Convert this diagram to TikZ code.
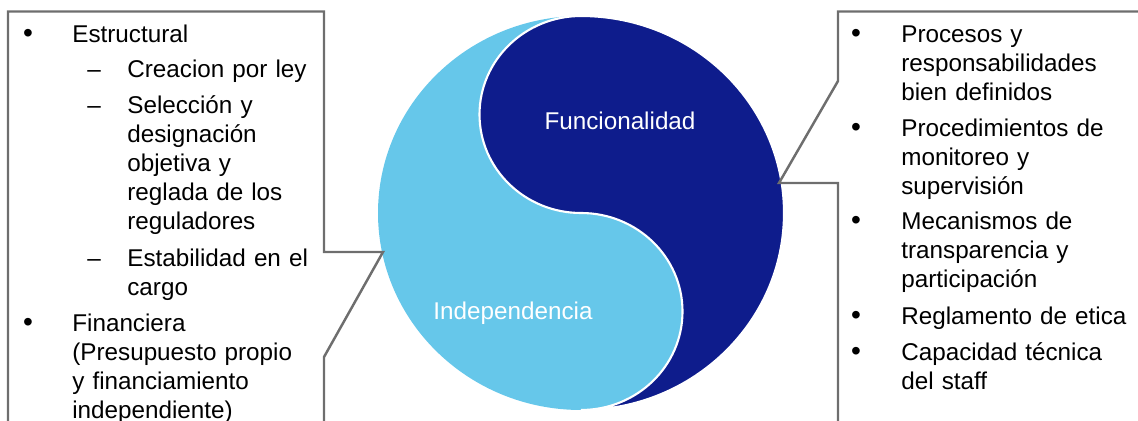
\documentclass[tikz,border=0pt]{standalone}
\usepackage{fontspec}
\setmainfont{Liberation Sans}
\usetikzlibrary{positioning}
\definecolor{yydark}{HTML}{0E1C8C}
\definecolor{yylight}{HTML}{66C7EA}
\definecolor{callgray}{HTML}{6E6E6E}
\tikzset{
  txt/.style={font=\fontsize{13.8}{16.5}\selectfont, inner sep=0pt, align=left, text width=5cm, anchor=base west},
  bul/.style={font=\fontsize{16}{16.5}\selectfont, inner sep=0pt, anchor=base},
  dsh/.style={font=\fontsize{13.8}{16.5}\selectfont, inner sep=0pt, anchor=base},
  lab/.style={font=\fontsize{13.8}{16.5}\selectfont, text=white, inner sep=0pt},
  callout/.style={draw=callgray, line width=1.4pt, line join=miter},
  yy/.style={x radius=203, y radius=197},
  yyhalf/.style={x radius=101.5, y radius=98.5},
}
\begin{document}
\begin{tikzpicture}[x=0.02cm, y=0.02cm]
    \useasboundingbox (0,0) rectangle (1138,-421);
    \fill[yylight] (581,-213) ellipse[yy];
    \filldraw[fill=yydark, draw=white, line width=1.2pt] (581,-16) arc[start angle=90, end angle=-90, yy] arc[start angle=-90, end angle=90, yyhalf] arc[start angle=270, end angle=90, yyhalf] -- cycle;
    \node[lab] (fun) at (620,-121) {Funcionalidad};
    \node[lab] (ind) at (513,-313) {Independencia};
    \coordinate (ltip) at (383,-252);
    \coordinate (rtip) at (779,-183);
    \draw[callout] (8,-440) -- (8,-11.5) -- (324,-11.5) -- (324,-252) -- (ltip) -- (324,-357) -- (324,-440);
    \draw[callout] (1160,-11.5) -- (838,-11.5) -- (838,-81) -- (rtip) -- (838,-183) -- (838,-440);
    \node[txt] (e1) at (72,-43) {Estructural};
    \node[txt] (s1) at (127,-78) {Creacion por ley};
    \node[txt] (s2) at (127,-114) {Selección y\\designación\\objetiva y\\reglada de los\\reguladores};
    \node[txt] (s3) at (127,-267) {Estabilidad en el\\cargo};
    \node[txt] (e2) at (72,-332) {Financiera\\(Presupuesto propio\\y financiamiento\\independiente)};
    \node[txt] (r1) at (901,-43) {Procesos y\\responsabilidades\\bien definidos};
    \node[txt] (r2) at (901,-137) {Procedimientos de\\monitoreo y\\supervisión};
    \node[txt] (r3) at (901,-230) {Mecanismos de\\transparencia y\\participación};
    \node[txt] (r4) at (901,-325) {Reglamento de etica};
    \node[txt] (r5) at (901,-361) {Capacidad técnica\\del staff};
    \foreach \n in {e1,e2} \node[bul] (b\n) at ([xshift=-44*0.02cm]\n.base west) {•};
    \foreach \n in {s1,s2,s3} \node[dsh] (b\n) at ([xshift=-33*0.02cm]\n.base west) {–};
    \foreach \n in {r1,r2,r3,r4,r5} \node[bul] (b\n) at ([xshift=-45*0.02cm]\n.base west) {•};
\end{tikzpicture}
\end{document}
